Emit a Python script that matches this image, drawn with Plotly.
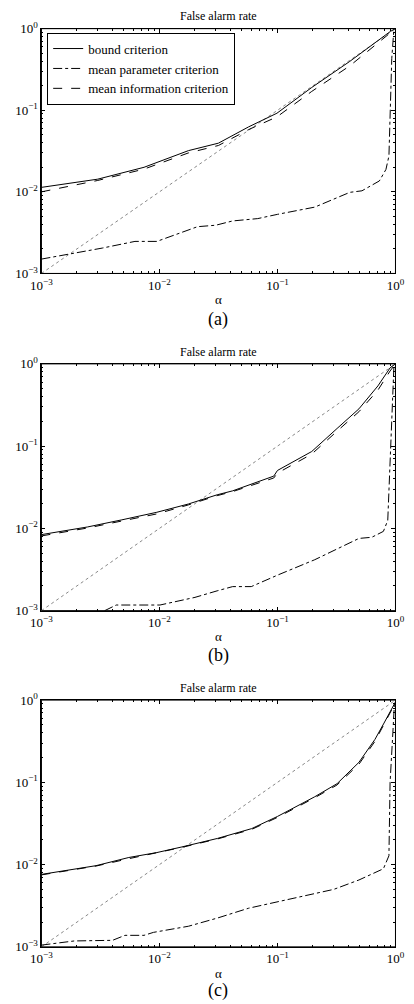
import plotly.graph_objects as go

# ---------------- data ----------------
# panel (a)
a_bound_x = [0.001, 0.003, 0.0074, 0.01, 0.0176, 0.0316, 0.057, 0.099, 0.195, 0.41, 0.91, 1.0]
a_bound_y = [0.01135, 0.0143, 0.020, 0.0237, 0.032, 0.0395, 0.0626, 0.092, 0.19, 0.397, 0.93, 1.0]
a_info_x = [0.001, 0.003, 0.0074, 0.01, 0.0176, 0.0316, 0.057, 0.099, 0.195, 0.41, 0.91, 1.0]
a_info_y = [0.0100, 0.0138, 0.019, 0.0222, 0.0300, 0.0370, 0.0580, 0.083, 0.170, 0.350, 0.88, 1.0]
a_par_x = [0.001, 0.0033, 0.0062, 0.0095, 0.021, 0.03, 0.0417, 0.068, 0.1, 0.207, 0.41, 0.52, 0.73, 0.83, 0.88, 0.9, 0.93, 0.97]
a_par_y = [0.0015, 0.00205, 0.00247, 0.00247, 0.00374, 0.0039, 0.0044, 0.0047, 0.0053, 0.0065, 0.00986, 0.0103, 0.0136, 0.0188, 0.0275, 0.11, 0.43, 1.0]

# panel (b)
b_bound_x = [0.001, 0.00245, 0.0048, 0.0095, 0.0176, 0.0308, 0.0417, 0.093, 0.1, 0.195, 0.32, 0.49, 0.71, 0.9, 1.0]
b_bound_y = [0.0084, 0.0104, 0.0127, 0.0157, 0.0198, 0.0256, 0.0286, 0.0432, 0.0506, 0.086, 0.164, 0.284, 0.54, 0.895, 1.0]
b_info_x = [0.001, 0.00245, 0.0048, 0.0095, 0.0176, 0.0308, 0.0417, 0.093, 0.1, 0.195, 0.32, 0.49, 0.71, 0.9, 1.0]
b_info_y = [0.0081, 0.0101, 0.0123, 0.0150, 0.0193, 0.0250, 0.0280, 0.0410, 0.0470, 0.080, 0.152, 0.262, 0.48, 0.82, 1.0]
b_par_x = [0.0025, 0.0043, 0.0101, 0.02, 0.0308, 0.0417, 0.06, 0.1, 0.207, 0.41, 0.49, 0.63, 0.79, 0.86, 0.9, 0.94, 0.97]
b_par_y = [0.0008, 0.00117, 0.00117, 0.00145, 0.00174, 0.00196, 0.00196, 0.0027, 0.00416, 0.0066, 0.00755, 0.0078, 0.0092, 0.0125, 0.06, 0.37, 0.94]

# panel (c)
c_bound_x = [0.001, 0.0029, 0.0055, 0.0095, 0.0155, 0.031, 0.0605, 0.1, 0.207, 0.32, 0.49, 0.67, 0.8, 1.0]
c_bound_y = [0.0076, 0.0097, 0.0122, 0.014, 0.0164, 0.0208, 0.0274, 0.0385, 0.0668, 0.0964, 0.175, 0.333, 0.526, 0.95]
c_info_x = [0.001, 0.0029, 0.0055, 0.0095, 0.0155, 0.031, 0.0605, 0.1, 0.207, 0.32, 0.49, 0.67, 0.8, 1.0]
c_info_y = [0.0075, 0.0096, 0.0118, 0.0138, 0.0162, 0.0205, 0.0268, 0.0375, 0.065, 0.093, 0.166, 0.315, 0.50, 0.93]
c_par_x = [0.001, 0.0019, 0.004, 0.0051, 0.0074, 0.0089, 0.0176, 0.031, 0.057, 0.1, 0.207, 0.3, 0.49, 0.79, 0.88, 0.9, 0.95, 0.98]
c_par_y = [0.00105, 0.00118, 0.0012, 0.00138, 0.00138, 0.0015, 0.00178, 0.00224, 0.00295, 0.00355, 0.00447, 0.005, 0.0065, 0.0089, 0.0128, 0.1, 0.4, 0.92]

diag_x = [0.001, 1.0]
diag_y = [0.001, 1.0]

panel_titles = ["False alarm rate", "False alarm rate", "False alarm rate"]
captions = ["(a)", "(b)", "(c)"]
series_names = ["bound criterion", "mean parameter criterion", "mean information criterion"]
tick_vals = [0.001, 0.01, 0.1, 1.0]
tick_text = ["10<sup>−3</sup>", "10<sup>−2</sup>", "10<sup>−1</sup>", "10<sup>0</sup>"]
minor_vals = [m * d for d in (0.001, 0.01, 0.1) for m in range(2, 10)]

panels = [
    (a_bound_x, a_bound_y, a_par_x, a_par_y, a_info_x, a_info_y),
    (b_bound_x, b_bound_y, b_par_x, b_par_y, b_info_x, b_info_y),
    (c_bound_x, c_bound_y, c_par_x, c_par_y, c_info_x, c_info_y),
]

# ---------------- layout geometry ----------------
W, H = 414, 1004
x0, x1 = 32, 404
boxes = [(20, 269), (361, 612), (703, 954)]
title_y = [7, 349, 691]
alpha_y = [296, 638, 981]
cap_y = [316, 658, 998]

FONT = "Liberation Serif, Times New Roman, serif"
fig = go.Figure()
layout_axes = {}
annotations = []
shapes = []

for i, (bx, by, px, py, ix, iy) in enumerate(panels):
    n = "" if i == 0 else str(i + 1)
    xa, ya = "x" + n, "y" + n
    show = i == 0
    fig.add_trace(go.Scatter(x=diag_x, y=diag_y, mode="lines", xaxis=xa, yaxis=ya,
                             line=dict(color="#888888", width=1, dash="dot"), showlegend=False))
    fig.add_trace(go.Scatter(x=bx, y=by, mode="lines", name=series_names[0], xaxis=xa, yaxis=ya,
                             line=dict(color="black", width=1), showlegend=show))
    fig.add_trace(go.Scatter(x=px, y=py, mode="lines", name=series_names[1], xaxis=xa, yaxis=ya,
                             line=dict(color="black", width=1, dash="dashdot"), showlegend=show))
    fig.add_trace(go.Scatter(x=ix, y=iy, mode="lines", name=series_names[2], xaxis=xa, yaxis=ya,
                             line=dict(color="black", width=1, dash="dash"), showlegend=show))
    top, bot = boxes[i]
    common = dict(type="log", range=[-3, 0], showline=True, linecolor="black", linewidth=1,
                  mirror="ticks", ticks="inside", ticklen=4, tickcolor="black", tickwidth=1,
                  showgrid=False, zeroline=False, tickmode="array", tickvals=tick_vals, ticktext=tick_text,
                  ticklabeloverflow="allow",
                  tickfont=dict(family=FONT, size=13, color="black"),
                  minor=dict(ticks="inside", ticklen=2, tickcolor="black", tickwidth=1,
                             tickmode="array", tickvals=minor_vals, showgrid=False))
    layout_axes["xaxis" + n] = dict(common, domain=[x0 / W, x1 / W], anchor=ya)
    layout_axes["yaxis" + n] = dict(common, domain=[1 - bot / H, 1 - top / H], anchor=xa)
    shapes.append(dict(type="rect", xref=xa + " domain", yref=ya + " domain", x0=0, x1=1, y0=0, y1=1,
                       line=dict(color="black", width=1), fillcolor="rgba(0,0,0,0)", layer="above"))
    annotations.append(dict(text=panel_titles[i], x=(x0 + x1) / 2 / W, y=1 - title_y[i] / H,
                            xref="paper", yref="paper", showarrow=False, xanchor="center", yanchor="middle",
                            font=dict(family=FONT, size=12, color="black")))
    annotations.append(dict(text="α", x=(x0 + x1) / 2 / W, y=1 - alpha_y[i] / H,
                            xref="paper", yref="paper", showarrow=False, xanchor="center", yanchor="middle",
                            font=dict(family=FONT, size=13, color="black")))
    annotations.append(dict(text=captions[i], x=(x0 + x1) / 2 / W, y=1 - cap_y[i] / H,
                            xref="paper", yref="paper", showarrow=False, xanchor="center", yanchor="middle",
                            font=dict(family=FONT, size=18, color="black")))

fig.update_layout(
    width=W, height=H, margin=dict(l=0, r=0, t=0, b=0),
    paper_bgcolor="white", plot_bgcolor="white",
    font=dict(family=FONT, color="black"),
    annotations=annotations,
    shapes=shapes,
    legend=dict(x=38 / W, y=1 - 24 / H, xanchor="left", yanchor="top",
                bordercolor="black", borderwidth=1, bgcolor="white",
                font=dict(family=FONT, size=13, color="black"),
                tracegroupgap=0, itemwidth=30),
    **layout_axes,
)

fig.write_html("out.html",
               post_script="document.documentElement.style.margin='0';document.body.style.margin='0';"
                           "document.documentElement.style.overflow='hidden';document.body.style.overflow='hidden';")
